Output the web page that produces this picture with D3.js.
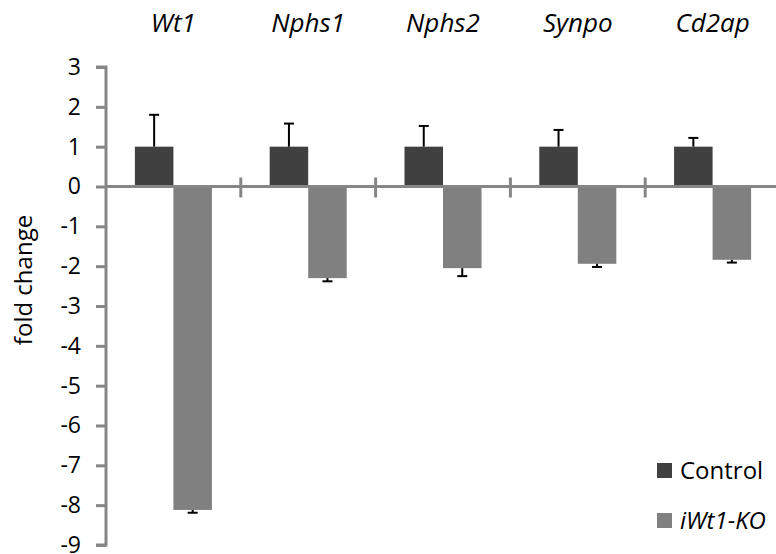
<!DOCTYPE html>
<html>
<head>
<meta charset="utf-8">
<script src="https://cdn.jsdelivr.net/npm/d3@7"></script>
<style>
    body { margin: 0; background: #fff; }
    svg { display: block; font-family: "Open Sans", sans-serif; }
</style>
</head>
<body>
<svg id="chart" width="776" height="554"></svg>
<script>
// genes and series values (fold change)
const genes = ["Wt1", "Nphs1", "Nphs2", "Synpo", "Cd2ap"];
const seriesNames = ["Control", "iWt1-KO"];
const controlValues = [1, 1, 1, 1, 1];
const controlErrors = [0.8, 0.58, 0.52, 0.42, 0.22];
const koValues = [-8.12, -2.3, -2.05, -1.94, -1.84];
const koErrors = [0.07, 0.08, 0.2, 0.08, 0.07];
const yTicks = [3, 2, 1, 0, -1, -2, -3, -4, -5, -6, -7, -8, -9];

const colors = { "Control": "#404040", "iWt1-KO": "#808080" };

const svg = d3.select("#chart");

// scales
const xScale = d3.scaleBand()
    .domain(genes)
    .range([106, 780])
    .padding(0);

const subScale = d3.scaleBand()
    .domain(seriesNames)
    .range([0, xScale.bandwidth()])
    .paddingInner(0)
    .paddingOuter(0.75);

const yScale = d3.scaleLinear()
    .domain([-9, 3])
    .range([545, 67]);

// build rows for the bars
const rows = [];
genes.forEach(function(g, i) {
    rows.push({ gene: g, series: "Control", value: controlValues[i], err: controlErrors[i] });
    rows.push({ gene: g, series: "iWt1-KO", value: koValues[i], err: koErrors[i] });
});

// bars
svg.append("g").selectAll("rect")
    .data(rows)
    .enter().append("rect")
    .attr("x", d => xScale(d.gene) + subScale(d.series))
    .attr("width", subScale.bandwidth())
    .attr("y", d => yScale(Math.max(0, d.value)))
    .attr("height", d => Math.abs(yScale(d.value) - yScale(0)))
    .attr("fill", d => colors[d.series]);

// error bars (one-sided, away from zero)
const errG = svg.append("g").attr("stroke", "#000").attr("stroke-width", 2);
rows.forEach(function(d) {
    const cx = xScale(d.gene) + subScale(d.series) + subScale.bandwidth() / 2;
    const end = d.value > 0 ? d.value + d.err : d.value - d.err;
    errG.append("line")
        .attr("x1", cx).attr("x2", cx)
        .attr("y1", yScale(d.value)).attr("y2", yScale(end));
    errG.append("line")
        .attr("x1", cx - 5).attr("x2", cx + 5)
        .attr("y1", yScale(end)).attr("y2", yScale(end));
});

// y axis
const yAxis = svg.append("g")
    .attr("transform", "translate(106,0)")
    .call(d3.axisLeft(yScale).tickValues(yTicks).tickSize(10).tickPadding(15).tickFormat(d3.format("d")));
yAxis.selectAll("path, line").attr("stroke", "#868686").attr("stroke-width", 3);
yAxis.select(".domain").attr("d", "M-10,67H0V545H-10");
yAxis.selectAll("text")
    .attr("font-family", "Open Sans, sans-serif")
    .attr("font-size", 23)
    .attr("fill", "#000")
    .text(d => d < 0 ? "-" + Math.abs(d) : d);

// x axis line at zero with category separators
const xAxisG = svg.append("g").attr("stroke", "#868686").attr("stroke-width", 3);
xAxisG.append("line")
    .attr("x1", 106).attr("x2", 780)
    .attr("y1", yScale(0)).attr("y2", yScale(0));
genes.slice(1).forEach(function(g) {
    xAxisG.append("line")
        .attr("x1", xScale(g)).attr("x2", xScale(g))
        .attr("y1", yScale(0) - 9).attr("y2", yScale(0) + 11);
});

// gene labels on top
svg.append("g").selectAll("text")
    .data(genes)
    .enter().append("text")
    .attr("x", d => xScale(d) + xScale.bandwidth() / 2)
    .attr("y", 32)
    .attr("text-anchor", "middle")
    .attr("font-size", 26)
    .attr("font-style", "italic")
    .text(d => d);

// y axis title
svg.append("text")
    .attr("transform", "translate(32,280) rotate(-90)")
    .attr("text-anchor", "middle")
    .attr("font-size", 24)
    .text("fold change");

// legend
const legend = svg.append("g").selectAll("g")
    .data(seriesNames)
    .enter().append("g")
    .attr("transform", (d, i) => "translate(657," + (463 + i * 50) + ")");
legend.append("rect")
    .attr("width", 15).attr("height", 15)
    .attr("fill", d => colors[d]);
legend.append("text")
    .attr("x", 23).attr("y", 16)
    .attr("font-size", 24)
    .attr("font-style", d => d === "Control" ? "normal" : "italic")
    .text(d => d);
</script>
</body>
</html>
